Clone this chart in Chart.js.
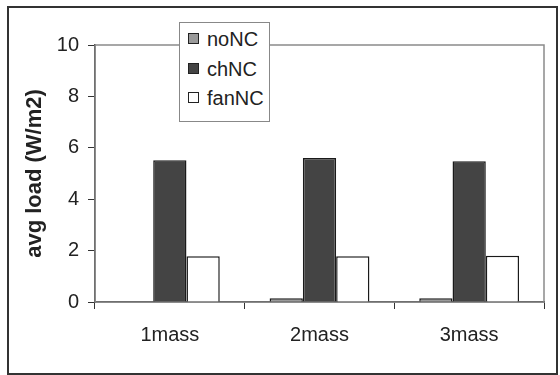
<!DOCTYPE html>
<html>
<head>
<meta charset="utf-8">
<script src="https://cdn.jsdelivr.net/npm/chart.js@4"></script>
<style>
  html, body { margin: 0; padding: 0; background: #fff; }
  #wrap { position: relative; width: 560px; height: 375px; }
  #frame { position: absolute; left: 7px; top: 6px; width: 547px; height: 365px; border: 2px solid #333; }
  #legend { position: absolute; left: 179px; top: 22px; width: 89px; height: 98px; border: 1px solid #888; background: #fff;
            font-family: "Liberation Sans", Arial, sans-serif; font-size: 20px; color: #222; }
  #legend div { position: absolute; left: 8px; height: 22px; line-height: 22px; white-space: nowrap; }
  #legend span.box { display: inline-block; width: 9px; height: 9px; border: 1px solid #222; margin-right: 8px; vertical-align: 2px; }
</style>
</head>
<body>
<div id="wrap">
  <canvas id="c" width="560" height="375"></canvas>
  <div id="frame"></div>
  <div id="legend"></div>
</div>
<script>
// ---- data ----
const categories = ['1mass', '2mass', '3mass'];
const noNC = [0.02, 0.15, 0.15];
const chNC = [5.52, 5.6, 5.48];
const fanNC = [1.78, 1.78, 1.8];
const seriesNames = ['noNC', 'chNC', 'fanNC'];
const yTicks = [0, 2, 4, 6, 8, 10];

const FONT = '"Liberation Sans", Arial, sans-serif';
const fills = ['#9a9a9a', '#444444', '#ffffff'];

// gray box around plot area (top + right edges show)
const plotBox = {
    id: 'plotBox',
    beforeDatasetsDraw(chart) {
        const a = chart.chartArea, ctx = chart.ctx;
        ctx.save();
        ctx.strokeStyle = '#8a8a8a';
        ctx.lineWidth = 1.5;
        ctx.strokeRect(a.left, a.top, a.right - a.left, a.bottom - a.top);
        ctx.restore();
    }
};

const chart = new Chart(document.getElementById('c'), {
    type: 'bar',
    data: {
        labels: categories,
        datasets: [noNC, chNC, fanNC].map((d, i) => ({
            label: seriesNames[i],
            data: d,
            backgroundColor: fills[i],
            borderColor: '#1a1a1a',
            borderWidth: 1.5,
            barPercentage: 1,
            categoryPercentage: 0.667
        }))
    },
    options: {
        responsive: false,
        animation: false,
        layout: { padding: { left: 22, top: 45, right: 16, bottom: 0 } },
        plugins: { legend: { display: false }, tooltip: { enabled: false } },
        scales: {
            x: {
                grid: { offset: true, drawOnChartArea: false, tickLength: 7, color: '#333' },
                border: { color: '#222', width: 1.5 },
                ticks: { color: '#222', font: { family: FONT, size: 20 }, padding: 14 },
                afterFit(s) { s.height = 73; }
            },
            y: {
                min: 0, max: 10,
                afterBuildTicks(s) { s.ticks = yTicks.map(v => ({ value: v })); },
                grid: { drawOnChartArea: false, tickLength: 7, color: '#333' },
                border: { color: '#222', width: 1.5 },
                ticks: { color: '#222', font: { family: FONT, size: 20 }, padding: 9 },
                title: { display: true, text: 'avg load (W/m2)', color: '#222',
                         font: { family: FONT, size: 22, weight: 'bold' }, padding: 0 },
                afterFit(s) { s.width = 73; }
            }
        }
    },
    plugins: [plotBox]
});

// legend from datasets
const leg = document.getElementById('legend');
chart.data.datasets.forEach((ds, i) => {
    const row = document.createElement('div');
    row.style.top = (5 + i * 29.5) + 'px';
    row.innerHTML = '<span class="box" style="background:' + ds.backgroundColor + '"></span>' + ds.label;
    leg.appendChild(row);
});
</script>
</body>
</html>
